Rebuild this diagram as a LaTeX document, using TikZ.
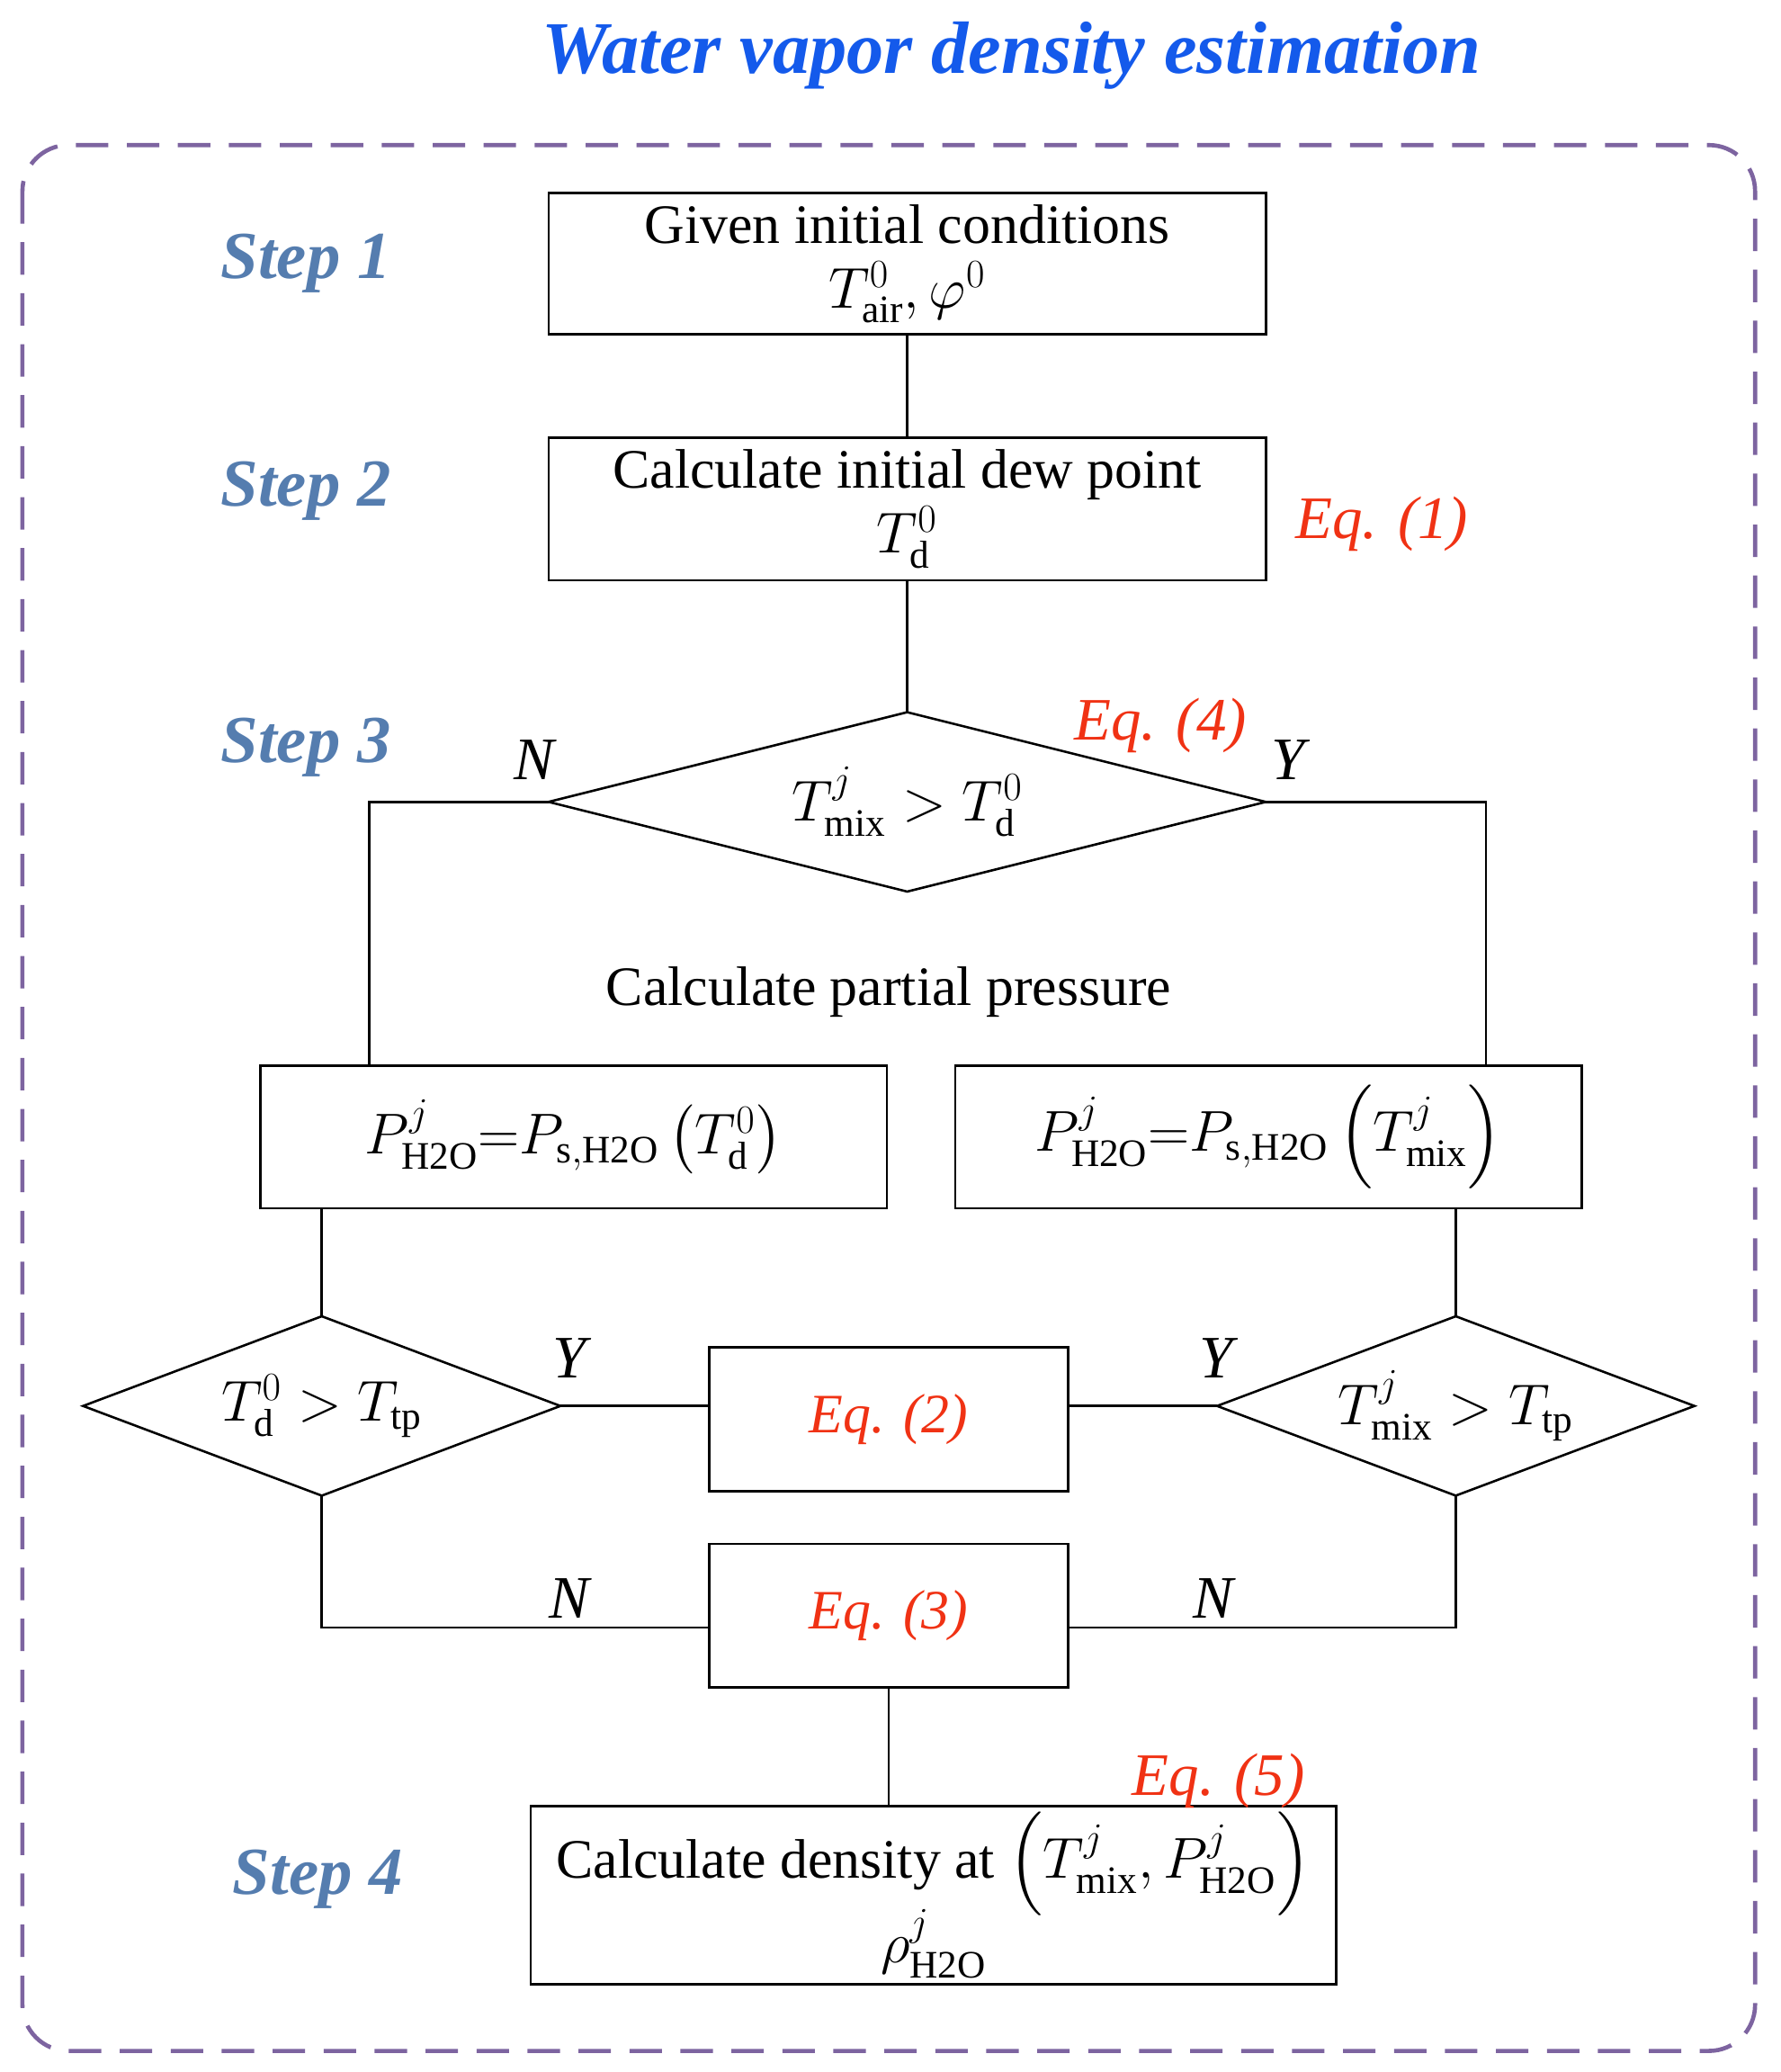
\documentclass[tikz,border=0pt]{standalone}
\usepackage{fontspec}
\setmainfont{Liberation Serif}
\usepackage{amsmath}
\usetikzlibrary{positioning}
\definecolor{titleblue}{RGB}{20,90,235}
\definecolor{stepblue}{RGB}{85,125,175}
\definecolor{eqred}{RGB}{240,50,20}
\definecolor{framepurple}{RGB}{125,100,160}
\tikzset{
    box/.style={draw,rectangle,line width=1pt,inner sep=0pt,align=center,font=\fontsize{24}{26}\selectfont},
    dia/.style={inner sep=0pt,font=\fontsize{24}{26}\selectfont},
    steplabel/.style={text=stepblue,font=\fontsize{29}{30}\selectfont\bfseries\itshape},
    eq/.style={text=eqred,font=\fontsize{26}{28}\selectfont\itshape},
    yn/.style={font=\fontsize{26}{28}\selectfont\itshape},
    link/.style={line width=1pt}
}
% diamond outline: name, half width, half height
\newcommand{\diaoutline}[3]{%
  \coordinate (#1W) at ($(#1)+(-#2,0)$);
  \coordinate (#1E) at ($(#1)+(#2,0)$);
  \coordinate (#1N) at ($(#1)+(0,-#3)$);
  \coordinate (#1S) at ($(#1)+(0,#3)$);
  \draw[link] (#1W) -- (#1N) -- (#1E) -- (#1S) -- cycle;}
\usetikzlibrary{calc}
\begin{document}
\begin{tikzpicture}[x=0.02cm,y=-0.02cm]
\useasboundingbox (0,0) rectangle (1350,1571);
\draw[framepurple,line width=1.8pt,dash pattern=on 14pt off 8pt,rounded corners=0.7cm] (17,110) rectangle (1331,1555);
\node[text=titleblue,font=\fontsize{32}{34}\selectfont\bfseries\itshape] (title) at (767,42) {Water vapor density estimation};

% main column
\node[box,minimum width=10.88cm,minimum height=2.14cm] (init) at (688,200)
    {Given initial conditions\\[2pt] $T^{0}_{\mathrm{air}},\varphi^{0}$};
\node[box,minimum width=10.88cm,minimum height=2.16cm] (dew) at (688,386)
    {Calculate initial dew point\\[2pt] $T^{0}_{\mathrm{d}}$};
\node[dia] (cmp) at (688,608) {$T^{j}_{\mathrm{mix}}>T^{0}_{\mathrm{d}}$};
\diaoutline{cmp}{272}{68}
\node[font=\fontsize{24}{26}\selectfont] (pp) at (674,752) {Calculate partial pressure};
\node[box,minimum width=9.5cm,minimum height=2.16cm] (pl) at (435,862)
    {$P^{j}_{\mathrm{H2O}}{=}P_{\mathrm{s,H2O}}\left(T^{0}_{\mathrm{d}}\right)$};
\node[box,minimum width=9.5cm,minimum height=2.16cm] (pr) at (962,862)
    {$P^{j}_{\mathrm{H2O}}{=}P_{\mathrm{s,H2O}}\left(T^{j}_{\mathrm{mix}}\right)$};
\node[dia] (dl) at (244,1066) {$T^{0}_{\mathrm{d}}>T_{\mathrm{tp}}$};
\diaoutline{dl}{181}{68}
\node[dia] (dr) at (1104,1066) {$T^{j}_{\mathrm{mix}}>T_{\mathrm{tp}}$};
\diaoutline{dr}{181}{68}
\node[box,minimum width=5.44cm,minimum height=2.18cm] (eqtwo) at (674,1076) {\textcolor{eqred}{\itshape Eq. (2)}};
\node[box,minimum width=5.44cm,minimum height=2.18cm] (eqthree) at (674,1225) {\textcolor{eqred}{\itshape Eq. (3)}};
\node[box,minimum width=12.22cm,minimum height=2.7cm] (dens) at (708,1437)
    {Calculate density at $\left(T^{j}_{\mathrm{mix}},P^{j}_{\mathrm{H2O}}\right)$\\[-4pt] $\rho^{j}_{\mathrm{H2O}}$};

\coordinate (cl) at (280,608);
\coordinate (cr) at (1127,608);
\coordinate (bl) at (244,1234);
\coordinate (br) at (1104,1234);

% connectors
\draw[link] (init) -- (dew);
\draw[link] (dew) -- (cmpN);
\draw[link] (cmpW) -- (cl) -- (cl |- pl.north);
\draw[link] (cmpE) -- (cr) -- (cr |- pr.north);
\draw[link] (dlN |- pl.south) -- (dlN);
\draw[link] (drN |- pr.south) -- (drN);
\draw[link] (dlE) -- (eqtwo.west |- dlE);
\draw[link] (eqtwo.east |- drW) -- (drW);
\draw[link] (dlS) -- (bl) -- (eqthree.west |- bl);
\draw[link] (drS) -- (br) -- (eqthree.east |- br);
\draw[link] (eqthree.south) -- (eqthree.south |- dens.north);

% labels
\node[yn] (n1) at (405,576) {N};
\node[yn] (y1) at (977,576) {Y};
\node[yn] (y2) at (432,1030) {Y};
\node[yn] (y3) at (922,1030) {Y};
\node[yn] (n2) at (432,1212) {N};
\node[yn] (n3) at (920,1212) {N};
\node[eq] (eqone) at (1048,397) {Eq. (1)};
\node[eq] (eqfour) at (880,550) {Eq. (4)};
\node[eq] (eqfive) at (924,1350) {Eq. (5)};
\node[steplabel] (s1) at (232,200) {Step 1};
\node[steplabel] (s2) at (232,372) {Step 2};
\node[steplabel] (s3) at (232,567) {Step 3};
\node[steplabel] (s4) at (241,1425) {Step 4};
\end{tikzpicture}
\end{document}
